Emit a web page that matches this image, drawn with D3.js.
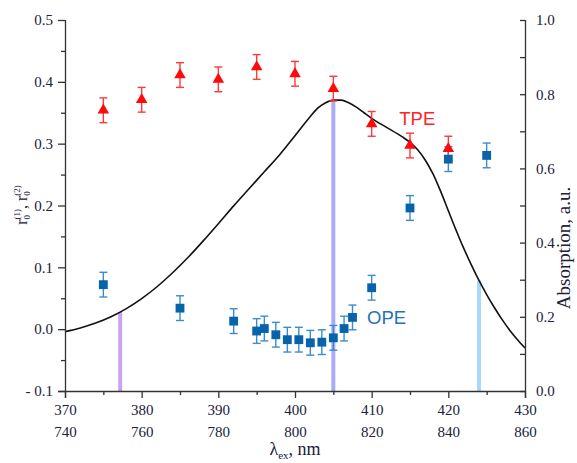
<!DOCTYPE html>
<html>
<head>
<meta charset="utf-8">
<script src="https://cdn.jsdelivr.net/npm/d3@7"></script>
<style>
  body { margin: 0; background: #fff; }
  svg { display: block; }
  .tick text { font-family: "Liberation Serif", "Times New Roman", serif; font-size: 15px; fill: #20203a; }
  .axis path, .axis line { stroke: #333; stroke-width: 1.3; }
</style>
</head>
<body>
<div id="chart"></div>
<script>
const width = 577
const height = 463

// absorption spectrum (right axis)
const absWl = [370, 372, 374, 376, 378, 380, 382, 384, 386, 388, 390, 392, 394, 396, 398, 400, 402, 403, 404, 405, 406, 407, 408, 409, 410, 412, 414, 415, 416, 417, 418, 419, 420, 421, 422, 423, 424, 425, 426, 427, 428, 429, 430]
const absVal = [0.160, 0.170, 0.183, 0.200, 0.222, 0.249, 0.281, 0.318, 0.359, 0.404, 0.451, 0.499, 0.545, 0.591, 0.637, 0.688, 0.740, 0.763, 0.777, 0.784, 0.784, 0.777, 0.765, 0.750, 0.735, 0.710, 0.685, 0.670, 0.650, 0.622, 0.585, 0.538, 0.486, 0.434, 0.385, 0.340, 0.298, 0.260, 0.225, 0.193, 0.164, 0.139, 0.116]

// TPE anisotropy
const tpeWl = [375, 380, 385, 390, 395, 400, 405, 410, 415, 420]
const tpeR = [0.354, 0.371, 0.411, 0.404, 0.424, 0.413, 0.389, 0.332, 0.297, 0.292]
const tpeErr = [0.02, 0.02, 0.02, 0.02, 0.02, 0.02, 0.02, 0.02, 0.02, 0.02]

// OPE anisotropy
const opeWl = [375, 385, 392, 395, 396, 397.5, 399, 400.5, 402, 403.5, 405, 406.4, 407.5, 410, 415, 420, 425]
const opeR = [0.072, 0.034, 0.013, -0.003, 0.001, -0.009, -0.017, -0.017, -0.022, -0.021, -0.014, 0.001, 0.019, 0.067, 0.196, 0.275, 0.281]
const opeErr = [0.02, 0.02, 0.02, 0.02, 0.02, 0.02, 0.02, 0.02, 0.02, 0.02, 0.02, 0.02, 0.02, 0.02, 0.02, 0.02, 0.02]

// excitation lines
const barWl = [377.2, 405, 424]
const barAbs = [0.213, 0.784, 0.298]
const barColors = ["#c9a2f2", "#aaaaf8", "#aad8fc"]

const xTicks = [370, 380, 390, 400, 410, 420, 430]

const margin = {left: 65, right: 52, top: 20, bottom: 72}

const svg = d3.select("#chart")
  .append("svg")
  .attr("width", width)
  .attr("height", height)

const x = d3.scaleLinear()
  .domain([370, 430])
  .range([margin.left, width - margin.right])

const yL = d3.scaleLinear()
  .domain([-0.1, 0.5])
  .range([height - margin.bottom, margin.top])

const yR = d3.scaleLinear()
  .domain([0, 1])
  .range([height - margin.bottom, margin.top])

const bottom = height - margin.bottom

// vertical excitation bars
svg.selectAll(".bar")
  .data(barWl)
  .join("line")
  .attr("class", "bar")
  .attr("x1", d => x(d))
  .attr("x2", d => x(d))
  .attr("y1", bottom)
  .attr("y2", (d, i) => yR(barAbs[i]))
  .style("stroke", (d, i) => barColors[i])
  .style("stroke-width", 4)

// absorption curve
const line = d3.line()
  .x((d, i) => x(absWl[i]))
  .y(d => yR(d))
  .curve(d3.curveMonotoneX)

svg.append("path")
  .datum(absVal)
  .attr("d", line)
  .style("fill", "none")
  .style("stroke", "#111")
  .style("stroke-width", 1.6)

// axes
const xMinor = svg.append("g")
  .attr("class", "axis")
  .attr("transform", `translate(0,${bottom})`)
  .call(d3.axisBottom(x).tickValues(d3.range(375, 430, 10)).tickSize(4).tickFormat(""))
xMinor.select(".domain").remove()

svg.append("g")
  .attr("class", "axis")
  .attr("transform", `translate(0,${bottom})`)
  .call(d3.axisBottom(x).tickValues(xTicks).tickSize(7).tickPadding(6).tickFormat(d3.format("d")))
  .select(".domain").attr("d", `M${margin.left - 7},0.5H${width - margin.right}`)

// second row of labels (fundamental wavelength)
const x2 = svg.append("g")
  .attr("transform", `translate(0,${bottom + 22})`)
  .call(d3.axisBottom(x).tickValues(xTicks).tickSize(0).tickPadding(13).tickFormat(d => d * 2))
x2.select(".domain").remove()
x2.selectAll("line").remove()

const yMinor = svg.append("g")
  .attr("class", "axis")
  .attr("transform", `translate(${margin.left},0)`)
  .call(d3.axisLeft(yL).tickValues(d3.range(-0.05, 0.5, 0.1)).tickSize(4).tickFormat(""))
yMinor.select(".domain").remove()

svg.append("g")
  .attr("class", "axis")
  .attr("transform", `translate(${margin.left},0)`)
  .call(d3.axisLeft(yL).tickValues([-0.1, 0, 0.1, 0.2, 0.3, 0.4, 0.5]).tickSize(7).tickPadding(5)
    .tickFormat(d => d < 0 ? "- " + Math.abs(d).toFixed(1) : d.toFixed(1)))
  .select(".domain").attr("d", `M0.5,${margin.top}V${bottom + 7}`)

const yRMinor = svg.append("g")
  .attr("class", "axis")
  .attr("transform", `translate(${width - margin.right},0)`)
  .call(d3.axisRight(yR).tickValues([0.1, 0.3, 0.5, 0.7, 0.9]).tickSize(-5).tickFormat(""))
yRMinor.select(".domain").remove()

svg.append("g")
  .attr("class", "axis")
  .attr("transform", `translate(${width - margin.right},0)`)
  .call(d3.axisRight(yR).tickValues([0, 0.2, 0.4, 0.6, 0.8, 1.0]).tickSize(-5).tickPadding(11).tickFormat(d3.format(".1f")))
  .select(".domain").attr("d", `M0.5,${margin.top}V${bottom + 7}`)

// error bars
function errorBars(cls, wl, val, err, color) {
  const g = svg.append("g").attr("class", cls)
    .style("stroke", color).style("stroke-width", 1.4)
  g.selectAll(".v").data(val).join("line")
    .attr("x1", (d, i) => x(wl[i])).attr("x2", (d, i) => x(wl[i]))
    .attr("y1", (d, i) => yL(d - err[i])).attr("y2", (d, i) => yL(d + err[i]))
  g.selectAll(".lo").data(val).join("line")
    .attr("x1", (d, i) => x(wl[i]) - 4).attr("x2", (d, i) => x(wl[i]) + 4)
    .attr("y1", (d, i) => yL(d - err[i])).attr("y2", (d, i) => yL(d - err[i]))
  g.selectAll(".hi").data(val).join("line")
    .attr("x1", (d, i) => x(wl[i]) - 4).attr("x2", (d, i) => x(wl[i]) + 4)
    .attr("y1", (d, i) => yL(d + err[i])).attr("y2", (d, i) => yL(d + err[i]))
}

errorBars("ope-err", opeWl, opeR, opeErr, "#3a8ccc")
errorBars("tpe-err", tpeWl, tpeR, tpeErr, "#ff3838")

svg.append("g")
  .selectAll("path")
  .data(opeR)
  .join("path")
  .attr("transform", (d, i) => `translate(${x(opeWl[i])},${yL(d)})`)
  .attr("d", d3.symbol().type(d3.symbolSquare).size(78))
  .style("fill", "#0864aa")

svg.append("g")
  .selectAll("path")
  .data(tpeR)
  .join("path")
  .attr("transform", (d, i) => `translate(${x(tpeWl[i])},${yL(d)})`)
  .attr("d", d3.symbol().type(d3.symbolTriangle).size(58))
  .style("fill", "#ff0a0a")

// series labels
svg.append("text")
  .attr("x", x(413.6))
  .attr("y", yL(0.33))
  .style("font-family", "'Liberation Sans', Arial, sans-serif")
  .style("font-size", "18.5px")
  .style("fill", "#ff2424")
  .text("TPE")

svg.append("text")
  .attr("x", x(409.4))
  .attr("y", yL(0.008))
  .style("font-family", "'Liberation Sans', Arial, sans-serif")
  .style("font-size", "18.5px")
  .style("fill", "#2272ba")
  .text("OPE")

// axis titles
const serif = "'Liberation Serif', 'Times New Roman', serif"

const yTitle = svg.append("text")
  .attr("transform", "translate(27,205) rotate(-90)")
  .attr("text-anchor", "middle")
  .style("font-family", serif)
  .style("font-size", "16px")
  .style("fill", "#20203a")
yTitle.append("tspan").text("r")
yTitle.append("tspan").attr("dy", 3).style("font-size", "9px").text("0")
yTitle.append("tspan").attr("dx", -4.5).attr("dy", -10).style("font-size", "9px").text("(1)")
yTitle.append("tspan").attr("dy", 7).text(", r")
yTitle.append("tspan").attr("dy", 3).style("font-size", "9px").text("0")
yTitle.append("tspan").attr("dx", -4.5).attr("dy", -10).style("font-size", "9px").text("(2)")

svg.append("text")
  .attr("transform", "translate(570,248) rotate(-90)")
  .attr("text-anchor", "middle")
  .style("font-family", serif)
  .style("font-size", "19px")
  .style("fill", "#20203a")
  .text("Absorption, a.u.")

const xTitle = svg.append("text")
  .attr("x", x(400))
  .attr("y", 455)
  .attr("text-anchor", "middle")
  .style("font-family", serif)
  .style("font-size", "18px")
  .style("fill", "#20203a")
xTitle.append("tspan").text("λ")
xTitle.append("tspan").attr("dy", 4).style("font-size", "11px").text("ex")
xTitle.append("tspan").attr("dy", -4).text(", nm")
</script>
</body>
</html>
